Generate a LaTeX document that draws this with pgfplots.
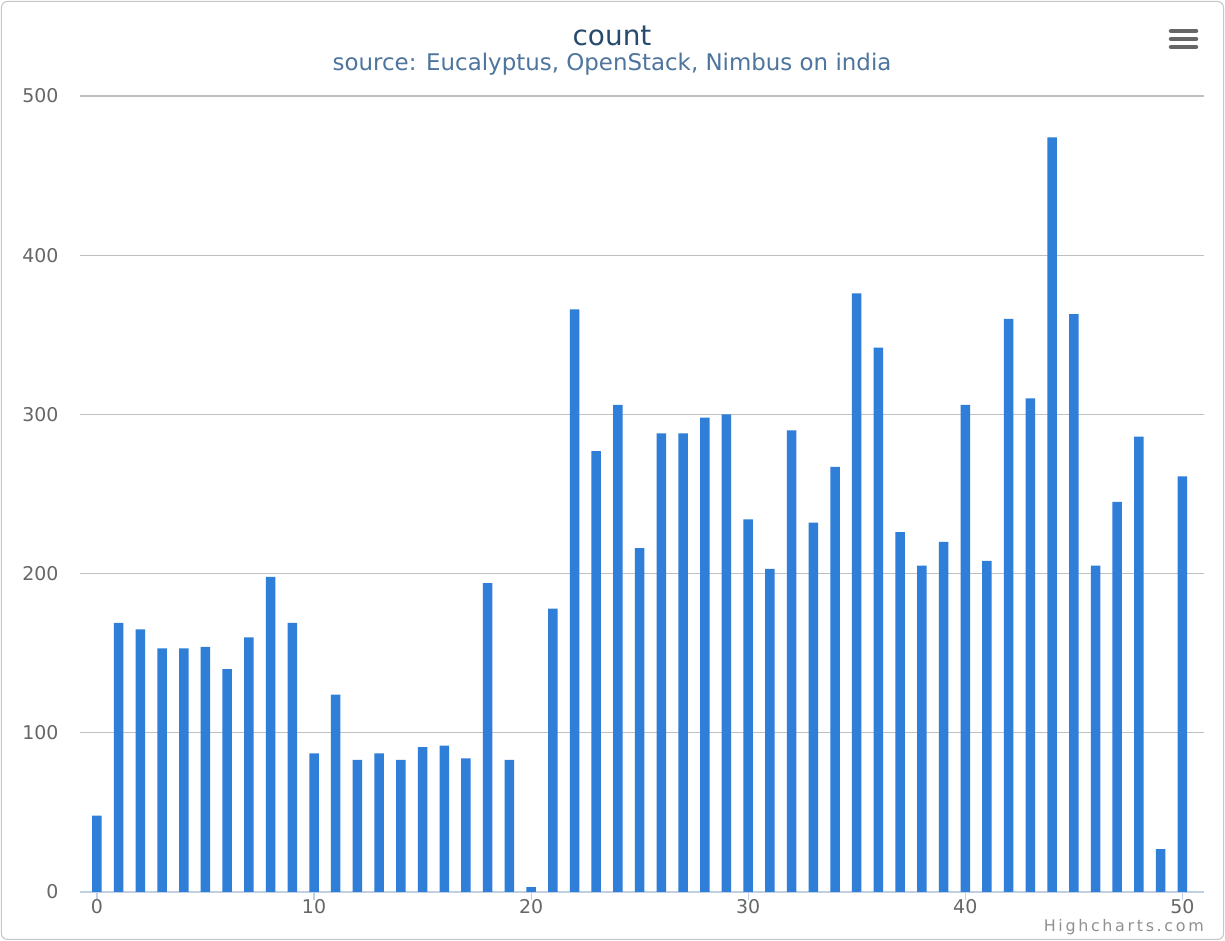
\documentclass[border=0pt]{standalone}
\usepackage{fontspec}
\setmainfont{DejaVu Sans}
\usepackage{pgfplots}
\pgfplotsset{compat=1.18}
\definecolor{barblue}{HTML}{2F7ED8}
\definecolor{titlecol}{HTML}{274B6D}
\definecolor{subcol}{HTML}{4D759E}
\definecolor{gridcol}{HTML}{C0C0C0}
\definecolor{axcol}{HTML}{C0D0E0}
\definecolor{labcol}{HTML}{666666}
\definecolor{credcol}{HTML}{909090}
\begin{document}
\begin{tikzpicture}[x=1bp,y=1bp]
\begin{scope}[shift={(-80,-49)}]
\useasboundingbox (0,0) rectangle (1225,941);
\draw[rounded corners=6bp, draw=gray!45, line width=1bp, fill=white] (1.5,1.5) rectangle (1223.5,939.5);
\end{scope}
\begin{axis}[
  scale only axis, width=1124bp, height=796bp,
  xmin=-0.78, xmax=51, ymin=0, ymax=500,
  ybar, bar width=9.5bp,
  xtick={0,10,...,50}, ytick={0,100,...,500},
  ymajorgrids, grid style={draw=gridcol, line width=1.2bp},
  axis lines*=left,
  y axis line style={draw=none},
  x axis line style={draw=axcol, line width=1.2bp, -},
  ytick style={draw=none},
  xtick style={draw=axcol, line width=1.2bp},
  tick align=outside, major tick length=8bp,
  /pgf/number format/assume math mode=true,
  ticklabel style={font=\fontsize{19}{21}\selectfont, text=labcol},
  yticklabel style={xshift=-10bp},
  xticklabel style={yshift=2bp, inner sep=1bp},
]
\addplot[fill=barblue, draw=none] coordinates {
(0,48) (1,169) (2,165) (3,153) (4,153) (5,154) (6,140) (7,160) (8,198) (9,169)
(10,87) (11,124) (12,83) (13,87) (14,83) (15,91) (16,92) (17,84) (18,194) (19,83)
(20,3) (21,178) (22,366) (23,277) (24,306) (25,216) (26,288) (27,288) (28,298) (29,300)
(30,234) (31,203) (32,290) (33,232) (34,267) (35,376) (36,342) (37,226) (38,205) (39,220)
(40,306) (41,208) (42,360) (43,310) (44,474) (45,363) (46,205) (47,245) (48,286) (49,27)
(50,261)
};
\end{axis}
\begin{scope}[shift={(-80,-49)}]
\node[text=titlecol, font=\fontsize{28}{30}\selectfont] at (612,905) {count};
\node[text=subcol, font=\fontsize{23}{25}\selectfont] at (612,877) {source: Eucalyptus, OpenStack, Nimbus on india};
\node[text=credcol, font=\fontsize{16}{18}\selectfont, anchor=base east, inner sep=0pt] at (1204,9) {H\,i\,g\,h\,c\,h\,a\,r\,t\,s\,.\,c\,o\,m};
\foreach \yy in {910,902,894} {
  \draw[labcol, line width=4.5bp, line cap=round] (1171,\yy) -- (1196,\yy);
}
\end{scope}
\end{tikzpicture}
\end{document}
